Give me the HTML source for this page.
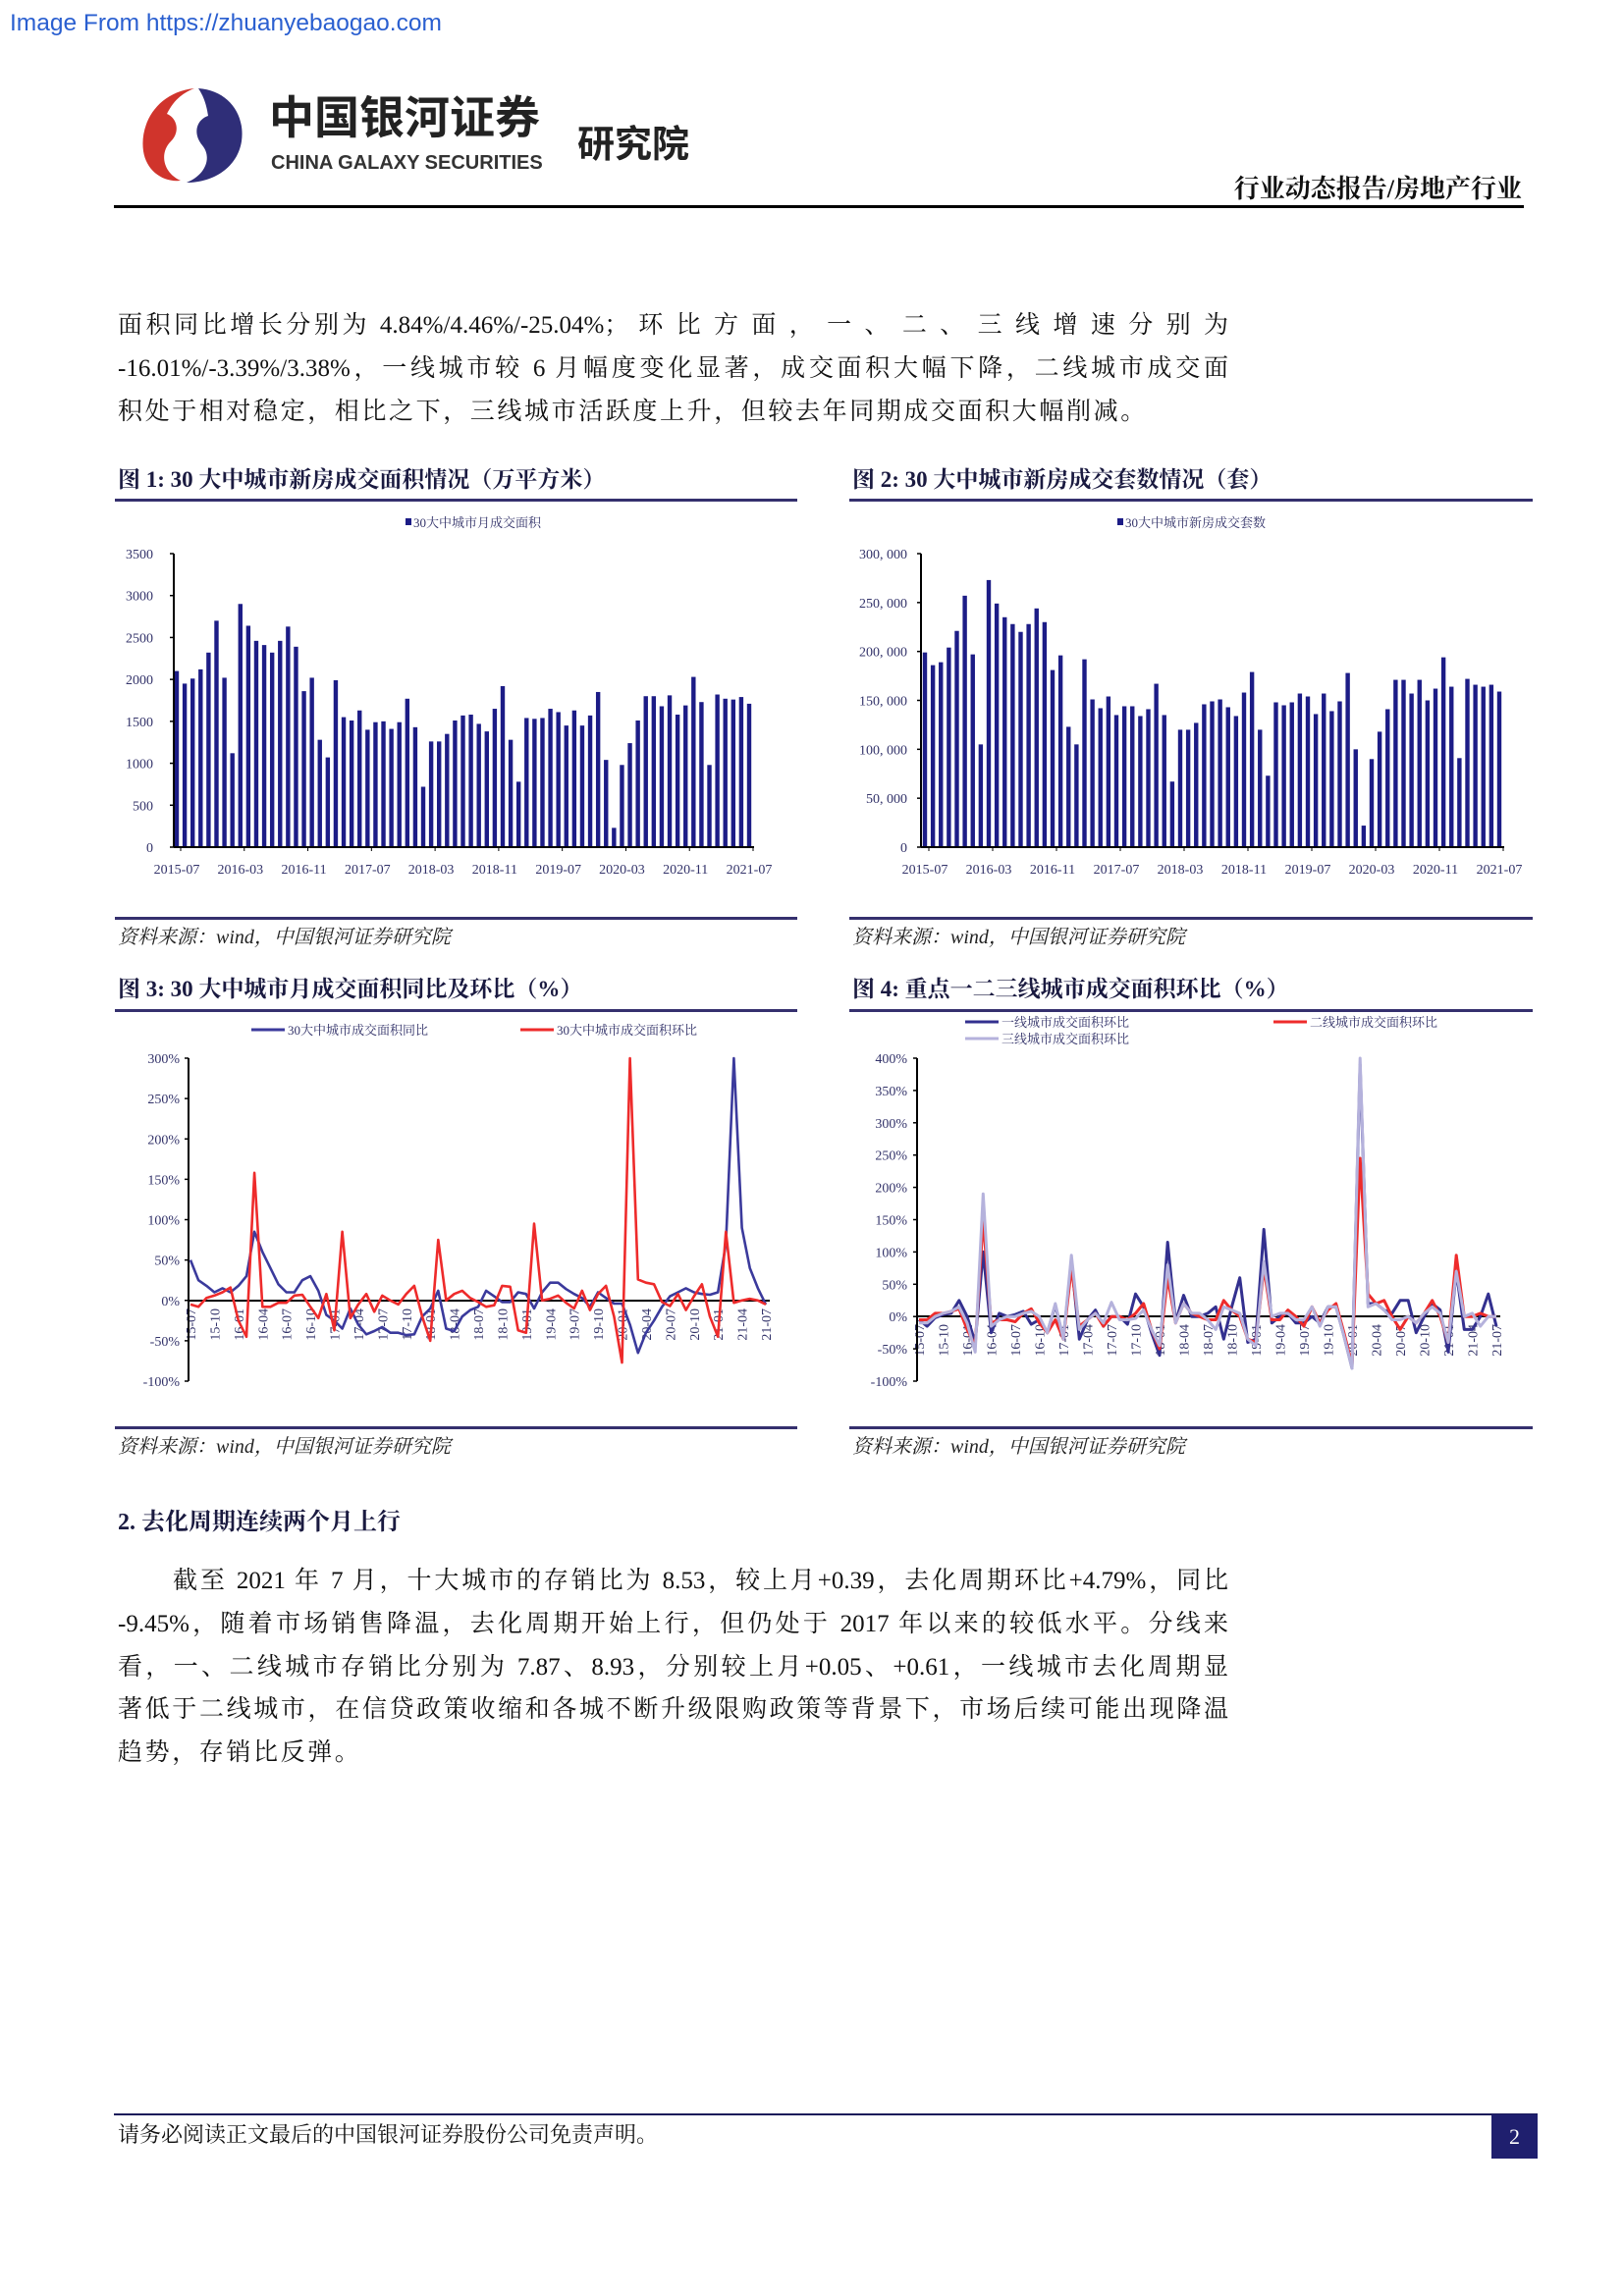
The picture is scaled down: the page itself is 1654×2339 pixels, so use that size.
<!DOCTYPE html>
<html><head><meta charset="utf-8">
<style>
html,body{margin:0;padding:0;background:#fff;}
body{width:1654px;height:2339px;position:relative;overflow:hidden;font-family:"Liberation Serif","Noto Serif CJK SC",serif;color:#111;}
.t{position:absolute;white-space:nowrap;}
.p{position:absolute;left:120px;width:1131px;font-size:25px;line-height:30px;text-align:justify;text-align-last:justify;font-family:"Liberation Serif","Noto Serif CJK SC",serif;}
.fig{position:absolute;font-size:23px;font-weight:bold;font-family:"Liberation Serif","Noto Serif CJK SC",serif;color:#1a1a40;}
.src{position:absolute;font-size:20px;font-style:italic;color:#222;font-family:"Liberation Serif","Noto Serif CJK SC",serif;}
</style></head>
<body>
<div class="t" style="left:10px;top:10px;font-family:'Liberation Sans',sans-serif;font-size:24.5px;color:#2a5fd0;">Image From https://zhuanyebaogao.com</div>

<svg style="position:absolute;left:140px;top:86px" width="112" height="104" viewBox="0 0 112 104">
<path d="M58 4 C20 8 2 40 6 68 C9 88 26 100 44 98 C26 90 22 70 34 58 C44 48 40 34 30 30 C38 14 48 8 58 4Z" fill="#d0342c"/>
<path d="M62 4 C92 6 110 30 106 58 C102 84 78 100 50 100 C70 92 76 74 66 62 C56 50 60 36 72 32 C70 18 66 10 62 4Z" fill="#2f2e78"/>
</svg>
<div class="t" style="left:274px;top:92px;font-size:46px;line-height:56px;font-weight:bold;font-family:'Liberation Sans','Noto Sans CJK SC',sans-serif;color:#222;letter-spacing:0px;">中国银河证券</div>
<div class="t" style="left:276px;top:154px;font-size:20px;line-height:24px;font-weight:bold;font-family:'Liberation Sans',sans-serif;color:#333;">CHINA GALAXY SECURITIES</div>
<div class="t" style="left:588px;top:116px;font-size:38px;font-weight:bold;font-family:'Liberation Sans','Noto Sans CJK SC',sans-serif;color:#222;">研究院</div>
<div class="t" style="right:104px;top:172px;font-size:26px;font-weight:bold;font-family:'Liberation Serif','Noto Serif CJK SC',serif;">行业动态报告/房地产行业</div>
<div style="position:absolute;left:116px;top:209px;width:1436px;height:3px;background:#000;"></div>

<div class="p" style="top:317px;">面积同比增长分别为 4.84%/4.46%/-25.04%； 环 比 方 面 ， 一 、 二 、 三 线 增 速 分 别 为</div>
<div class="p" style="top:361px;">-16.01%/-3.39%/3.38%，一线城市较 6 月幅度变化显著，成交面积大幅下降，二线城市成交面</div>
<div class="p" style="top:405px;text-align-last:left;width:auto;letter-spacing:2.6px;">积处于相对稳定，相比之下，三线城市活跃度上升，但较去年同期成交面积大幅削减。</div>

<div class="fig" style="left:120px;top:470px;">图 1:  30 大中城市新房成交面积情况（万平方米）</div>
<div class="fig" style="left:868px;top:470px;">图 2:  30 大中城市新房成交套数情况（套）</div>
<div class="fig" style="left:120px;top:989px;">图 3:  30 大中城市月成交面积同比及环比（%）</div>
<div class="fig" style="left:868px;top:989px;">图 4:  重点一二三线城市成交面积环比（%）</div>

<div class="src" style="left:120px;top:938px;">资料来源：wind，中国银河证券研究院</div>
<div class="src" style="left:868px;top:938px;">资料来源：wind，中国银河证券研究院</div>
<div class="src" style="left:120px;top:1457px;">资料来源：wind，中国银河证券研究院</div>
<div class="src" style="left:868px;top:1457px;">资料来源：wind，中国银河证券研究院</div>

<div class="t" style="left:120px;top:1530px;font-size:24px;font-weight:bold;color:#1a1a40;">2.  去化周期连续两个月上行</div>
<div class="p" style="top:1596px;text-indent:56px;">截至 2021 年 7 月，十大城市的存销比为 8.53，较上月+0.39，去化周期环比+4.79%，同比</div>
<div class="p" style="top:1640px;">-9.45%，随着市场销售降温，去化周期开始上行，但仍处于 2017 年以来的较低水平。分线来</div>
<div class="p" style="top:1684px;">看，一、二线城市存销比分别为 7.87、8.93，分别较上月+0.05、+0.61，一线城市去化周期显</div>
<div class="p" style="top:1727px;">著低于二线城市，在信贷政策收缩和各城不断升级限购政策等背景下，市场后续可能出现降温</div>
<div class="p" style="top:1771px;text-align-last:left;width:auto;letter-spacing:2.6px;">趋势，存销比反弹。</div>

<div style="position:absolute;left:116px;top:2153px;width:1450px;height:2px;background:#1a1a5a;"></div>
<div class="t" style="left:120px;top:2158px;font-size:22px;">请务必阅读正文最后的中国银河证券股份公司免责声明。</div>
<div style="position:absolute;left:1519px;top:2154px;width:47px;height:45px;background:#1f1f6e;color:#fff;font-size:22px;text-align:center;line-height:45px;">2</div>

<svg id="charts" style="position:absolute;left:0;top:0" width="1654" height="2339"></svg>

<script>
const months = [];
for (let y=2015,m=7; months.length<73; m++) { if(m>12){m=1;y++;} months.push(y+'-'+String(m).padStart(2,'0')); }
const c1Ticks = [0,500,1000,1500,2000,2500,3000,3500];
const c1Area = [2100,1950,2010,2120,2320,2700,2020,1120,2900,2640,2460,2410,2320,2460,2630,2390,1860,2020,1280,1070,1990,1550,1510,1630,1400,1490,1500,1410,1490,1770,1430,720,1260,1260,1350,1510,1570,1580,1470,1380,1650,1920,1280,780,1540,1530,1540,1650,1610,1450,1630,1450,1570,1850,1040,230,980,1240,1510,1800,1800,1680,1810,1580,1690,2030,1730,980,1820,1770,1760,1790,1710];
const c2Ticks = [0,50000,100000,150000,200000,250000,300000];
const c2Units = [199,186,189,204,221,257,197,105,273,249,235,228,220,228,244,230,181,196,123,105,192,151,142,154,135,144,144,134,141,167,135,67,120,120,127,146,149,151,143,134,158,179,120,73,148,145,148,157,154,136,157,139,149,178,100,22,90,118,141,171,171,157,171,150,162,194,164,91,172,166,164,166,159].map(v=>v*1000);
const c3Ticks = [-100,-50,0,50,100,150,200,250,300];
const c3Yoy = [50,25,18,10,15,10,18,30,85,60,40,20,10,10,25,30,12,-18,-25,-35,-10,-30,-42,-38,-33,-40,-40,-43,-42,-20,-10,12,-35,-38,-20,-12,-8,12,5,-2,-2,10,8,-10,10,22,22,14,8,3,-8,10,3,-4,-4,-30,-65,-40,-25,-8,5,10,15,10,8,7,10,70,300,90,40,15,-5];
const c3Mom = [-5,-8,3,6,10,16,-25,-45,158,-8,-8,-3,-3,6,7,-8,-22,8,-37,85,-22,-5,8,-14,6,0,-5,8,18,-20,-50,75,0,8,12,3,-2,-8,-6,18,17,-37,-40,95,0,2,6,-3,-10,12,-12,8,18,-20,-77,300,26,22,20,-2,-7,8,-12,5,20,-20,-45,85,-3,0,2,0,-5];
const c4Ticks = [-100,-50,0,50,100,150,200,250,300,350,400];
const c4Tier1 = [-5,-15,-2,3,5,25,0,-40,100,-25,5,0,3,8,-12,-5,-25,18,-35,85,-35,-5,10,-15,0,0,-12,35,15,-25,-60,115,-8,33,0,0,5,15,-35,15,60,-40,-35,135,-10,0,5,-10,-10,0,-10,15,15,-30,-80,390,20,20,10,5,25,25,-25,0,20,10,-55,70,-20,-20,0,35,-15];
const c4Tier2 = [-5,-5,5,5,8,12,-20,-45,150,-10,-5,-5,-8,5,12,-10,-25,-5,-35,75,-15,-5,5,-15,0,0,-5,5,20,-20,-50,60,-10,20,5,0,-5,-5,25,10,0,-35,-40,75,-5,-5,10,0,-15,15,-10,10,20,-25,-75,245,35,20,25,0,-20,0,-10,5,25,0,-40,95,0,0,5,0,0];
const c4Tier3 = [-10,-10,0,5,8,15,-10,-55,190,-15,-5,0,0,5,8,0,-25,20,-35,95,-20,-5,5,-10,22,-5,-5,-3,10,-20,-45,80,-10,20,5,5,-5,-20,15,10,5,-35,-45,85,0,5,5,-5,-5,15,-15,15,15,-30,-80,400,15,20,10,-5,-5,0,-10,5,15,5,-40,70,0,5,-15,0,0];

const svg = document.getElementById('charts');
const NS = 'http://www.w3.org/2000/svg';
function mk(tag, attrs, parent){ const e=document.createElementNS(NS,tag); for(const k in attrs) e.setAttribute(k,attrs[k]); (parent||svg).appendChild(e); return e; }
function txt(s, attrs, parent){ const e=mk('text',attrs,parent); e.textContent=s; return e; }
const AX = {'font-family':'Liberation Serif, Noto Serif CJK SC, serif','font-size':'14','fill':'#33336a'};
function fmtComma(v){ return v===0?'0':v.toLocaleString('en-US').replace(',', ', '); }

[[117,508,695],[865,508,696],[117,1028,695],[865,1028,696],[117,934,695],[865,934,696],[117,1453,695],[865,1453,696]].forEach(function(r,i){
  const l=mk('rect',{x:r[0],y:r[1],width:r[2],height:3,fill:'#35306e'});
  
  
});

function barChart(name, vals, ticks, x0, x1, yTop, yBot, vmax, axX, labelX, legendX, legendText, fmt){
  const g=mk('g',{});
  
  
  const xs=i=>x0+i*(x1-x0)/(vals.length-1);
  const ys=v=>yBot-v/vmax*(yBot-yTop);
  ticks.forEach(function(t){
    const y=ys(t);
    mk('line',{x1:axX-4,x2:axX,y1:y,y2:y,stroke:'#000','stroke-width':1.5},g);
    const lb=txt(fmt(t),Object.assign({x:labelX,y:y+5,'text-anchor':'end'},AX),g);
    
    
  });
  vals.forEach(function(v,i){
    const b=mk('rect',{x:xs(i)-2.2,y:ys(v),width:4.4,height:yBot-ys(v),fill:'#1c1c86'},g);
    
    
  });
  mk('line',{x1:axX,x2:axX,y1:yTop,y2:yBot,stroke:'#000','stroke-width':2},g);
  mk('line',{x1:axX,x2:x1+5,y1:yBot,y2:yBot,stroke:'#000','stroke-width':2},g);
  for(let i=0;i<vals.length;i+=8){
    mk('line',{x1:xs(i)+4,x2:xs(i)+4,y1:yBot,y2:yBot+4,stroke:'#000','stroke-width':1},g);
    const lb=txt(months[i],Object.assign({x:xs(i),y:yBot+27,'text-anchor':'middle'},AX),g);
    
    
  }
  const lg=mk('rect',{x:legendX-62,y:528,width:6,height:7,fill:'#1c1c86'},g);
  
  
  const lt=txt(legendText,{x:legendX-54,y:537,'font-family':'Liberation Serif, Noto Serif CJK SC, serif','font-size':'13','fill':'#33336a'},g);
  
  
}
barChart('chart-area-bars', c1Area, c1Ticks, 180, 763, 564, 863, 3500, 177, 156, 475, '30大中城市月成交面积', v=>String(v));
barChart('chart-units-bars', c2Units, c2Ticks, 942, 1527, 564, 863, 300000, 938, 924, 1200, '30大中城市新房成交套数', fmtComma);

function lineChart(name, series, ticks, x0, x1, yTop, yZero, yBot, vmin, vmax, axX, labelX){
  const g=mk('g',{});
  
  
  const n=series[0].vals.length;
  const xs=i=>x0+i*(x1-x0)/(n-1);
  const ys=v=>yBot-(v-vmin)/(vmax-vmin)*(yBot-yTop);
  ticks.forEach(function(t){
    const y=ys(t);
    mk('line',{x1:axX-4,x2:axX,y1:y,y2:y,stroke:'#000','stroke-width':1.5},g);
    const lb=txt(t+'%',Object.assign({x:labelX,y:y+5,'text-anchor':'end'},AX),g);
    
    
  });
  for(let i=0;i<n;i+=3){
    const x=xs(i);
    const lb=txt(months[i].slice(2),Object.assign({x:0,y:0,'text-anchor':'end',transform:'translate('+(x+5)+','+(yZero+8)+') rotate(-90)'},AX),g);
    
    
  }
  mk('line',{x1:axX,x2:x1+4,y1:yZero,y2:yZero,stroke:'#000','stroke-width':2},g);
  mk('line',{x1:axX,x2:axX,y1:yTop,y2:yBot,stroke:'#000','stroke-width':2},g);
  series.forEach(function(s){
    const pts=s.vals.map((v,i)=>xs(i).toFixed(1)+','+ys(v).toFixed(1)).join(' ');
    const pl=mk('polyline',{points:pts,fill:'none',stroke:s.color,'stroke-width':s.w,'stroke-linejoin':'round'},g);
    
    
  });
}
lineChart('chart-yoy-mom', [
  {vals:c3Yoy,color:'#3b3a9c',w:2.6,name:'series-yoy'},
  {vals:c3Mom,color:'#ee2b2b',w:2.6,name:'series-mom'}
], c3Ticks, 194, 780, 1078, 1325, 1407, -100, 300, 192, 183);
lineChart('chart-tier-mom', [
  {vals:c4Tier1,color:'#33308f',w:3,name:'series-tier1'},
  {vals:c4Tier2,color:'#ee2b2b',w:3,name:'series-tier2'},
  {vals:c4Tier3,color:'#b5b2dc',w:3,name:'series-tier3'}
], c4Ticks, 936, 1524, 1078, 1341, 1407, -100, 400, 934, 924);

function legLine(x,y,color,label,name){
  const l=mk('line',{x1:x,x2:x+34,y1:y,y2:y,stroke:color,'stroke-width':3});
  
  
  const t=txt(label,{x:x+37,y:y+5,'font-family':'Liberation Serif, Noto Serif CJK SC, serif','font-size':'13','fill':'#33336a'});
  
  
}
legLine(256,1049,'#3b3a9c','30大中城市成交面积同比','legend-yoy');
legLine(530,1049,'#ee2b2b','30大中城市成交面积环比','legend-mom');
legLine(983,1041,'#33308f','一线城市成交面积环比','legend-tier1');
legLine(983,1058,'#b5b2dc','三线城市成交面积环比','legend-tier3');
legLine(1297,1041,'#ee2b2b','二线城市成交面积环比','legend-tier2');
</script>
</body></html>
